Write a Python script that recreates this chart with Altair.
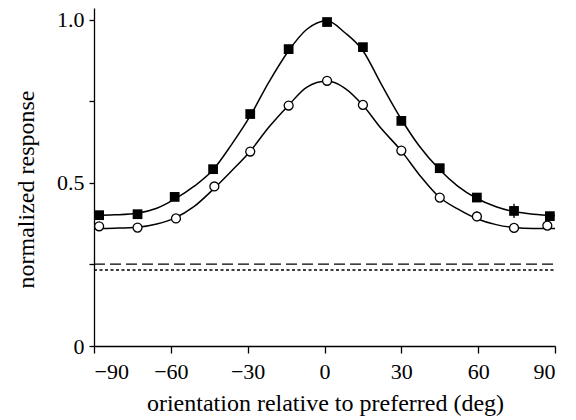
import altair as alt
import pandas as pd

# measured points (filled squares and open circles)
sq_x = [-88, -73, -58.5, -43.5, -29, -14, 1, 15, 30, 45, 59.5, 74, 88]
sq_y = [0.401, 0.404, 0.457, 0.542, 0.711, 0.910, 0.993, 0.916, 0.690, 0.545, 0.455, 0.414, 0.398]
sq_err = [0.008, 0.013, 0.010, 0.010, 0.010, 0.010, 0.008, 0.010, 0.010, 0.010, 0.010, 0.022, 0.010]

ci_x = [-88, -73, -58, -43, -29, -14, 1, 15, 30, 45, 59.5, 74, 87]
ci_y = [0.367, 0.363, 0.391, 0.489, 0.596, 0.737, 0.813, 0.739, 0.599, 0.455, 0.397, 0.362, 0.369]
ci_err = [0.008, 0.010, 0.008, 0.008, 0.008, 0.008, 0.008, 0.008, 0.008, 0.008, 0.015, 0.008, 0.008]

# fitted curves
fit_x = [-90, -82, -73, -65.5, -58.5, -51, -43.5, -36.5, -29, -22, -14, -7, 1,
         8, 15, 22, 30, 37, 45, 52, 59.5, 67, 74, 81.5, 90]
fit_sq = [0.400, 0.402, 0.407, 0.422, 0.450, 0.489, 0.540, 0.615, 0.705, 0.805, 0.905, 0.970, 0.997,
          0.960, 0.905, 0.805, 0.695, 0.613, 0.540, 0.490, 0.452, 0.427, 0.412, 0.404, 0.400]
fit_ci = [0.360, 0.361, 0.364, 0.374, 0.392, 0.427, 0.480, 0.535, 0.597, 0.668, 0.738, 0.793, 0.812,
          0.790, 0.738, 0.668, 0.598, 0.525, 0.455, 0.420, 0.390, 0.372, 0.363, 0.360, 0.360]

# baseline levels
base_y = [0.251, 0.233]
base_kind = ["dashed", "dotted"]

x_ticks = [-90, -60, -30, 0, 30, 60, 90]
y_ticks = [0, 0.25, 0.5, 0.75, 1.0]

pts = pd.DataFrame({
    "x": sq_x + ci_x,
    "y": sq_y + ci_y,
    "lo": [v - e for v, e in zip(sq_y, sq_err)] + [v - e for v, e in zip(ci_y, ci_err)],
    "hi": [v + e for v, e in zip(sq_y, sq_err)] + [v + e for v, e in zip(ci_y, ci_err)],
    "series": ["sq"] * len(sq_x) + ["ci"] * len(ci_x),
})
fits = pd.DataFrame({
    "x": fit_x + fit_x,
    "y": fit_sq + fit_ci,
    "series": ["sq"] * len(fit_x) + ["ci"] * len(fit_x),
})
base = pd.DataFrame({"y": base_y, "kind": base_kind, "x0": [-90, -90], "x1": [90, 90]})

xscale = alt.Scale(domain=[-90, 90], nice=False, zero=False)
yscale = alt.Scale(domain=[0, 1.036], nice=False, zero=False)

xaxis = alt.Axis(
    values=x_ticks, title="orientation relative to preferred (deg)",
    labelExpr="datum.value < 0 ? '\u2212' + abs(datum.value) : '' + datum.value",
    tickSize=7, labelPadding=25, labelBaseline="alphabetic",
    titleBaseline="alphabetic", titleY=64, titleX=231,
    grid=False,
)
yaxis = alt.Axis(
    values=y_ticks, title="normalized response",
    labelExpr="datum.value == 0 ? '0' : (datum.value == 0.5 ? '0.5' : (datum.value == 1 ? '1.0' : ''))",
    tickSize=5, labelPadding=5,
    titleAngle=270, titleBaseline="alphabetic", titleX=-61, titleY=181, titleAlign="center",
    grid=False,
)

lines = alt.Chart(fits).mark_line(color="black", strokeWidth=1.5, interpolate="monotone").encode(
    x=alt.X("x:Q", scale=xscale, axis=xaxis),
    y=alt.Y("y:Q", scale=yscale, axis=yaxis),
    detail="series:N",
)

dashed = alt.Chart(base[base.kind == "dashed"]).mark_rule(
    color="black", strokeWidth=1.3, strokeDash=[11, 5]
).encode(x="x0:Q", x2="x1:Q", y="y:Q")
dotted = alt.Chart(base[base.kind == "dotted"]).mark_rule(
    color="black", strokeWidth=1.3, strokeDash=[3, 2.5]
).encode(x="x0:Q", x2="x1:Q", y="y:Q")

errs = alt.Chart(pts).mark_rule(color="black", strokeWidth=1.3).encode(
    x="x:Q", y="lo:Q", y2="hi:Q"
)

squares = alt.Chart(pts[pts.series == "sq"]).mark_point(
    shape="square", filled=True, color="black", size=95, opacity=1
).encode(x="x:Q", y="y:Q")

circles = alt.Chart(pts[pts.series == "ci"]).mark_point(
    shape="circle", filled=True, fill="white", stroke="black", strokeWidth=1.3, size=80, opacity=1
).encode(x="x:Q", y="y:Q")

chart = alt.layer(lines, dashed, dotted, errs, squares, circles).properties(
    width=461, height=338,
    autosize=alt.AutoSizeParams(type="none"),
    padding={"left": 86, "top": 0, "right": 13, "bottom": 74},
).configure_view(stroke=None).configure_axis(
    domainColor="black", domainWidth=1.3, tickColor="black", tickWidth=1.3,
    labelColor="black", titleColor="black",
    labelFont="Liberation Serif", titleFont="Liberation Serif",
    labelFontSize=22, titleFontSize=24, labelFontWeight="normal", titleFontWeight="normal",
)

chart.save("out.html", embed_options={"renderer": "svg", "actions": False})
